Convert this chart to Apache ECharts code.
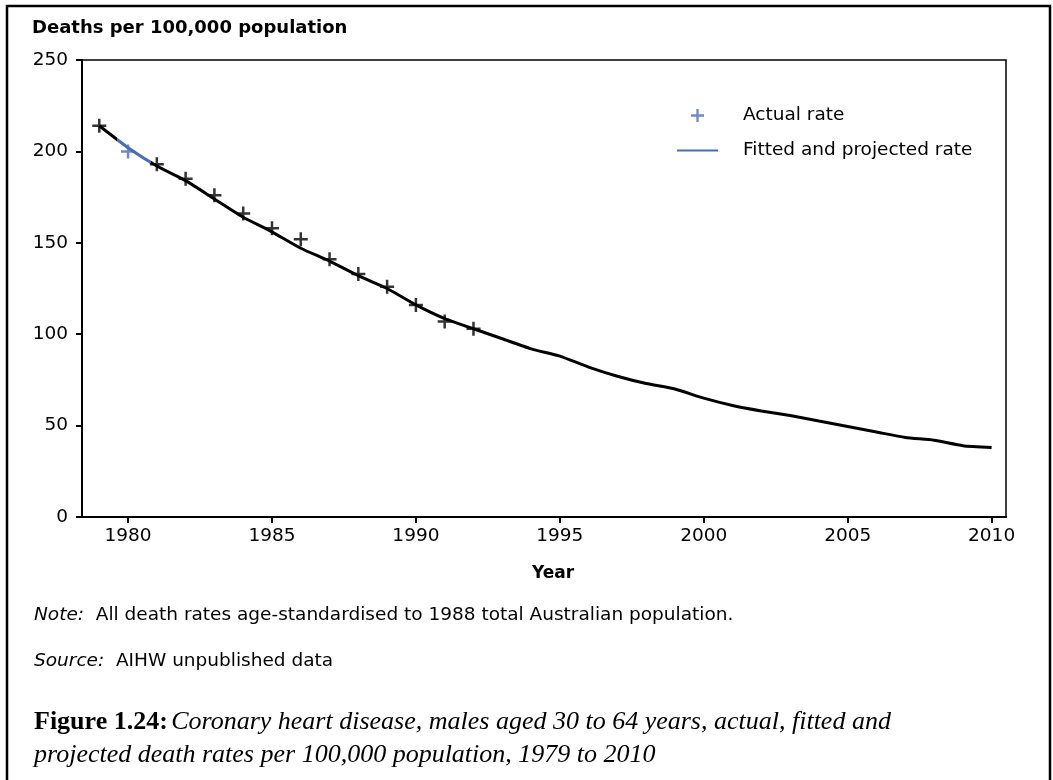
<!DOCTYPE html>
<html>
<head>
<meta charset="utf-8">
<script src="https://cdn.jsdelivr.net/npm/echarts@6.0.0/dist/echarts.min.js"></script>
<style>
  html, body { margin: 0; padding: 0; background: #fff; }
  #chart { width: 1053px; height: 780px; }
</style>
</head>
<body>
<div id="chart"></div>
<script>
// actual rates, 1979-1992
const actualYears = [1979, 1980, 1981, 1982, 1983, 1984, 1985, 1986, 1987, 1988, 1989, 1990, 1991, 1992];
const actualRates = [214, 200, 193, 185, 176, 166, 158, 152, 141, 133, 126, 116, 107, 103];

// fitted and projected rates, 1979-2010
const fittedYears = [1979, 1980, 1981, 1982, 1983, 1984, 1985, 1986, 1987, 1988, 1989, 1990,
    1991, 1992, 1993, 1994, 1995, 1996, 1997, 1998, 1999, 2000, 2001, 2002,
    2003, 2004, 2005, 2006, 2007, 2008, 2009, 2010];
const fittedRates = [214, 202, 192, 184, 174, 164, 156, 147, 140, 132, 125, 116,
    108.5, 103, 97.5, 92, 88, 82, 77, 73, 70, 65, 61, 58,
    55.5, 52.5, 49.5, 46.5, 43.5, 42, 39, 38];

const xTicks = [1980, 1985, 1990, 1995, 2000, 2005, 2010];

const blue = '#4a6db3';
const sans = 'DejaVu Sans';
const serif = 'Liberation Serif';
const plusPath = 'path://M5.75,0h2.5v5.75h5.75v2.5h-5.75v5.75h-2.5v-5.75h-5.75v-2.5h5.75z';
const linePath = 'path://M0,0h41v2h-41z';

let chartDom = document.getElementById('chart');
let chart = echarts.init(chartDom, null, { renderer: 'canvas' });

const actualData = actualYears.map((y, i) => {
    let item = { value: [y, actualRates[i]] };
    // the 1980 mark is printed blue in the original
    if (y === 1980) item.itemStyle = { color: blue };
    return item;
});
const fittedData = fittedYears.map((y, i) => [y, fittedRates[i]]);

let option = {
    animation: false,
    backgroundColor: '#fff',
    title: {
        text: 'Deaths per 100,000 population',
        left: 32,
        top: 19,
        padding: 0,
        textStyle: { fontFamily: sans, fontWeight: 'bold', fontSize: 18, color: '#000' }
    },
    legend: {
        orient: 'vertical',
        left: 672,
        top: 101,
        itemWidth: 41,
        itemHeight: 13,
        itemGap: 16,
        selectedMode: false,
        textStyle: { fontFamily: sans, fontSize: 18.5, color: '#000', padding: [0, 0, 0, 20] },
        data: [
            { name: 'Actual rate', icon: plusPath, itemStyle: { color: blue } },
            { name: 'Fitted and projected rate', icon: linePath, itemStyle: { color: blue } }
        ]
    },
    grid: {
        left: 82,
        right: 47,
        top: 60,
        bottom: 263,
        containLabel: false,
        outerBoundsMode: 'none',
        show: true,
        borderColor: '#000',
        borderWidth: 1.5
    },
    xAxis: {
        type: 'value',
        min: 1978.4,
        max: 2010.5,
        name: 'Year',
        nameLocation: 'middle',
        nameGap: 48,
        nameTextStyle: { fontFamily: sans, fontWeight: 'bold', fontSize: 17, color: '#000', padding: [0, 0, 0, 18] },
        axisLine: { show: true, onZero: false, lineStyle: { color: '#000', width: 2 } },
        axisTick: { show: true, length: 6, customValues: xTicks, lineStyle: { color: '#000', width: 2 } },
        axisLabel: {
            customValues: xTicks,
            margin: 10,
            fontFamily: sans, fontSize: 18.5, color: '#000',
            formatter: v => String(v)
        },
        splitLine: { show: false }
    },
    yAxis: {
        type: 'value',
        min: 0,
        max: 250,
        interval: 50,
        axisLine: { show: true, lineStyle: { color: '#000', width: 2 } },
        axisTick: { show: true, length: 6, lineStyle: { color: '#000', width: 2 } },
        axisLabel: { margin: 14, fontFamily: sans, fontSize: 18.5, color: '#000', padding: [0, 0, 8, 0] },
        splitLine: { show: false }
    },
    visualMap: {
        show: false,
        type: 'piecewise',
        seriesIndex: 1,
        dimension: 0,
        pieces: [{ gt: 1979.6, lte: 1980.8, color: blue }],
        outOfRange: { color: '#000' }
    },
    series: [
        {
            name: 'Actual rate',
            type: 'scatter',
            symbol: plusPath,
            symbolSize: 14,
            itemStyle: { color: '#000' },
            z: 3,
            data: actualData
        },
        {
            name: 'Fitted and projected rate',
            type: 'line',
            showSymbol: false,
            symbol: 'none',
            smooth: 0.2,
            lineStyle: { width: 3 },
            z: 2,
            data: fittedData
        }
    ],
    graphic: [
        {
            type: 'rect',
            shape: { x: 7, y: 6, width: 1043, height: 790 },
            style: { fill: 'none', stroke: '#000', lineWidth: 2.5 },
            silent: true
        },
        {
            type: 'text',
            left: 34,
            top: 606,
            style: {
                text: '{i|Note:}  All death rates age-standardised to 1988 total Australian population.',
                font: '18.5px "DejaVu Sans"',
                fill: '#000',
                rich: { i: { fontStyle: 'italic', fontFamily: sans, fontSize: 18.5, fill: '#000' } }
            }
        },
        {
            type: 'text',
            left: 34,
            top: 652,
            style: {
                text: '{i|Source:}  AIHW unpublished data',
                font: '18.5px "DejaVu Sans"',
                fill: '#000',
                rich: { i: { fontStyle: 'italic', fontFamily: sans, fontSize: 18.5, fill: '#000' } }
            }
        },
        {
            type: 'text',
            left: 34,
            top: 709,
            style: {
                text: '{b|Figure 1.24:} {i|Coronary heart disease, males aged 30 to 64 years, actual, fitted and}\n{i|projected death rates per 100,000 population, 1979 to 2010}',
                fill: '#000',
                rich: {
                    b: { fontWeight: 'bold', fontFamily: serif, fontSize: 26, lineHeight: 33, fill: '#000' },
                    i: { fontStyle: 'italic', fontFamily: serif, fontSize: 26, lineHeight: 33, fill: '#000' }
                }
            }
        }
    ]
};

chart.setOption(option);
</script>
</body>
</html>
